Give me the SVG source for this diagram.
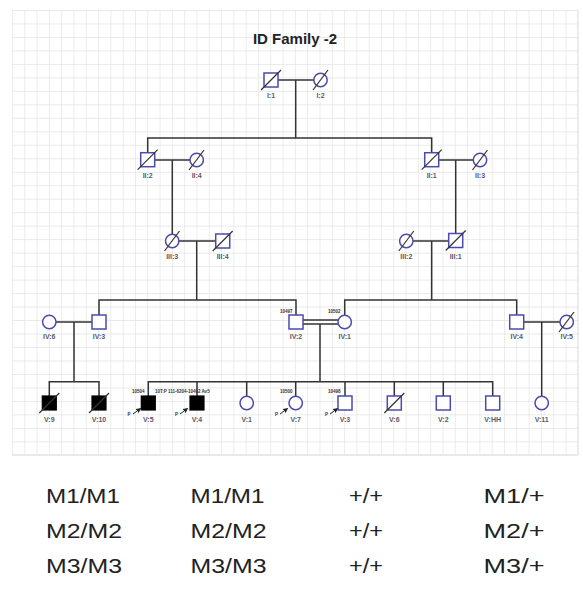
<svg xmlns="http://www.w3.org/2000/svg" width="583" height="589" viewBox="0 0 583 589">
<defs>
<pattern id="grid" x="12" y="10" width="12.3" height="13.48" patternUnits="userSpaceOnUse">
<path d="M0 0H12.3M0 0V13.48" fill="none" stroke="#e2e2e2" stroke-width="1.3"/>
</pattern>
<marker id="arr" viewBox="0 0 6 6" refX="5" refY="3" markerWidth="5" markerHeight="5" orient="auto">
<path d="M0 0L6 3L0 6z" fill="#222"/>
</marker>
<style>
.sq{fill:#fff;stroke:#4a4ab0;stroke-width:1.5}
.ci{fill:#fff;stroke:#4a4ab0;stroke-width:1.5}
.af{fill:#000;stroke:#000;stroke-width:1.2}
.sl{stroke:#333;stroke-width:1.2}
.ln{fill:none;stroke:#333;stroke-width:1.5}
.lb{font-family:"Liberation Sans",Arial,sans-serif;font-size:7px;font-weight:bold;fill:#5a5a6a;text-anchor:middle}
.id{font-family:"Liberation Sans",Arial,sans-serif;font-size:4.5px;font-weight:bold;fill:#333}
.pa{stroke:#222;stroke-width:1;marker-end:url(#arr)}
.gt{font-family:"Liberation Sans",Arial,sans-serif;font-size:21px;fill:#222}
</style>
</defs>
<rect width="583" height="589" fill="#fff"/>
<rect x="12" y="10" width="566" height="445" fill="url(#grid)"/>
<path d="M578 10V455M12 455H578" stroke="#e2e2e2" stroke-width="1.3"/>
<text x="295" y="44" font-family="Liberation Sans,Arial,sans-serif" font-size="15" font-weight="bold" fill="#222" text-anchor="middle">ID Family -2</text>

<g id="connectors">
<path class="ln" d="M278 80H313.8M295.7 80V138M147.7 152.7V138H431.7V152.7"/>
<path class="ln" d="M154.7 160H190M172.3 160V234.3M438.7 160H473.3M455.7 160V233.5"/>
<path class="ln" d="M179 241H216M196.7 241V300M99 315V300H296V315"/>
<path class="ln" d="M413 241H449M431.7 241V300M344.7 315.3V300H516.7V315"/>
<path class="ln" d="M56 322H92M74 322V381.7M49.3 396V381.7H99V396"/>
<path class="ln" d="M303 320H338.4M303 324H338.6M320 324V381.7"/>
<path class="ln" d="M148.3 396V381.7H492.7V396M197 381.7V396M246.7 381.7V396.3M295.7 381.7V396.3M345 381.7V396M394.3 381.7V396M443.3 381.7V396"/>
<path class="ln" d="M523.7 322H560M541.7 322V396.3"/>
</g>

<g id="I1"><rect class="sq" x="264" y="73" width="14" height="14"/><line class="sl" x1="261" y1="90" x2="281" y2="70"/><text class="lb" x="271" y="97.5">I:1</text></g>
<g id="I2"><circle class="ci" cx="320.5" cy="80" r="6.7"/><line class="sl" x1="313" y1="90" x2="328" y2="70"/><text class="lb" x="320.5" y="97.5">I:2</text></g>

<g id="II2"><rect class="sq" x="140.7" y="152.7" width="14" height="14"/><line class="sl" x1="137.7" y1="169.7" x2="157.7" y2="149.7"/><text class="lb" x="147.7" y="177.5">II:2</text></g>
<g id="II4"><circle class="ci" cx="196.7" cy="160" r="6.7"/><line class="sl" x1="189" y1="170" x2="204" y2="150"/><text class="lb" x="196.7" y="177.5">II:4</text></g>
<g id="II1"><rect class="sq" x="424.7" y="152.7" width="14" height="14"/><line class="sl" x1="421.7" y1="169.7" x2="441.7" y2="149.7"/><text class="lb" x="431.7" y="177.5">II:1</text></g>
<g id="II3"><circle class="ci" cx="480" cy="160" r="6.7"/><line class="sl" x1="472.5" y1="170" x2="487.5" y2="150"/><text class="lb" x="480" y="177.5">II:3</text></g>

<g id="III3"><circle class="ci" cx="172.2" cy="241" r="6.7"/><line class="sl" x1="164.5" y1="251" x2="179.5" y2="231"/><text class="lb" x="172.2" y="259">III:3</text></g>
<g id="III4"><rect class="sq" x="215.7" y="234" width="14" height="14"/><line class="sl" x1="212.7" y1="251" x2="232.7" y2="231"/><text class="lb" x="222.7" y="259">III:4</text></g>
<g id="III2"><circle class="ci" cx="406.3" cy="241" r="6.7"/><line class="sl" x1="398.8" y1="251" x2="413.8" y2="231"/><text class="lb" x="406.3" y="259">III:2</text></g>
<g id="III1"><rect class="sq" x="448.7" y="233.5" width="14" height="14"/><line class="sl" x1="445.7" y1="250.5" x2="465.7" y2="230.5"/><text class="lb" x="455.7" y="259">III:1</text></g>

<g id="IV6"><circle class="ci" cx="49.3" cy="322" r="6.7"/><text class="lb" x="49.3" y="339">IV:6</text></g>
<g id="IV3"><rect class="sq" x="92" y="315" width="14" height="14"/><text class="lb" x="99" y="339">IV:3</text></g>
<g id="IV2"><rect class="sq" x="289" y="315" width="14" height="14"/><text class="id" x="280" y="313">10497</text><text class="lb" x="296" y="339">IV:2</text></g>
<g id="IV1"><circle class="ci" cx="344.7" cy="322" r="6.7"/><text class="id" x="328" y="313">10502</text><text class="lb" x="344.7" y="339">IV:1</text></g>
<g id="IV4"><rect class="sq" x="509.7" y="315" width="14" height="14"/><text class="lb" x="516.7" y="339">IV:4</text></g>
<g id="IV5"><circle class="ci" cx="566.7" cy="322" r="6.7"/><line class="sl" x1="559" y1="332" x2="574" y2="312"/><text class="lb" x="566.7" y="339">IV:5</text></g>

<g id="V9"><rect class="af" x="42.3" y="396" width="14" height="14"/><line class="sl" x1="39.3" y1="413" x2="59.3" y2="393"/><text class="lb" x="49.3" y="422">V:9</text></g>
<g id="V10"><rect class="af" x="92" y="396" width="14" height="14"/><line class="sl" x1="89" y1="413" x2="109" y2="393"/><text class="lb" x="99" y="422">V:10</text></g>
<g id="V5"><rect class="af" x="141.3" y="396" width="14" height="14"/><text class="id" x="132" y="393">10504</text><line class="pa" x1="133" y1="414" x2="140.5" y2="408.5"/><text class="id" x="127.5" y="415.5">P</text><text class="lb" x="148.3" y="422">V:5</text></g>
<g id="V4"><rect class="af" x="190" y="396" width="14" height="14"/><text class="id" x="155" y="393">10T:P 111-6204-10492 Av5</text><line class="pa" x1="180" y1="414" x2="187.5" y2="408.5"/><text class="id" x="175" y="415.5">P</text><text class="lb" x="197" y="422">V:4</text></g>
<g id="V1"><circle class="ci" cx="246.7" cy="403" r="6.7"/><text class="lb" x="246.7" y="422">V:1</text></g>
<g id="V7"><circle class="ci" cx="295.7" cy="403" r="6.7"/><text class="id" x="280" y="393">10500</text><line class="pa" x1="280" y1="414" x2="287.5" y2="408.5"/><text class="id" x="275" y="415.5">P</text><text class="lb" x="295.7" y="422">V:7</text></g>
<g id="V3"><rect class="sq" x="338" y="396" width="14" height="14"/><text class="id" x="328" y="393">10498</text><line class="pa" x1="330" y1="414" x2="337.5" y2="408.5"/><text class="id" x="325" y="415.5">P</text><text class="lb" x="345" y="422">V:3</text></g>
<g id="V6"><rect class="sq" x="387.3" y="396" width="14" height="14"/><line class="sl" x1="384.3" y1="413" x2="404.3" y2="393"/><text class="lb" x="394.3" y="422">V:6</text></g>
<g id="V2"><rect class="sq" x="436.3" y="396" width="14" height="14"/><text class="lb" x="443.3" y="422">V:2</text></g>
<g id="VHH"><rect class="sq" x="485.7" y="396" width="14" height="14"/><text class="lb" x="492.7" y="422">V:HH</text></g>
<g id="V11"><circle class="ci" cx="541.7" cy="403" r="6.7"/><text class="lb" x="541.7" y="422">V:11</text></g>

<g id="genotypes">
<text class="gt" x="46" y="503" textLength="74" lengthAdjust="spacingAndGlyphs">M1/M1</text>
<text class="gt" x="190.5" y="503" textLength="74" lengthAdjust="spacingAndGlyphs">M1/M1</text>
<text class="gt" x="349" y="503" textLength="34" lengthAdjust="spacingAndGlyphs">+/+</text>
<text class="gt" x="483.5" y="503" textLength="61" lengthAdjust="spacingAndGlyphs">M1/+</text>
<text class="gt" x="46" y="538" textLength="76" lengthAdjust="spacingAndGlyphs">M2/M2</text>
<text class="gt" x="190.5" y="538" textLength="76" lengthAdjust="spacingAndGlyphs">M2/M2</text>
<text class="gt" x="349" y="538" textLength="34" lengthAdjust="spacingAndGlyphs">+/+</text>
<text class="gt" x="483.5" y="538" textLength="61" lengthAdjust="spacingAndGlyphs">M2/+</text>
<text class="gt" x="46" y="573" textLength="76" lengthAdjust="spacingAndGlyphs">M3/M3</text>
<text class="gt" x="190.5" y="573" textLength="76" lengthAdjust="spacingAndGlyphs">M3/M3</text>
<text class="gt" x="349" y="573" textLength="34" lengthAdjust="spacingAndGlyphs">+/+</text>
<text class="gt" x="483.5" y="573" textLength="61" lengthAdjust="spacingAndGlyphs">M3/+</text>
</g>
</svg>
